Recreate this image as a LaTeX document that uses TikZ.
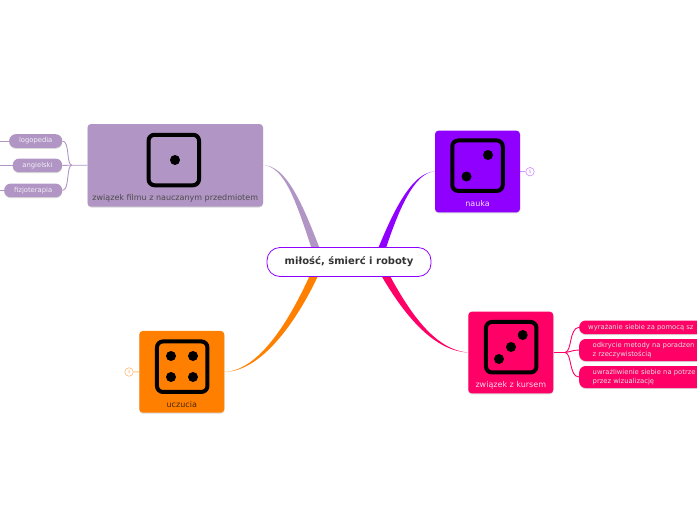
\documentclass[tikz,border=0pt]{standalone}
\usepackage{fontspec}
\setmainfont{DejaVu Sans}
\usetikzlibrary{backgrounds,shadows,calc}
\definecolor{mauve}{HTML}{B195C5}
\definecolor{violet}{HTML}{8F00FF}
\definecolor{pink}{HTML}{FF0066}
\definecolor{amber}{HTML}{FF8000}
\tikzset{
  softshadow/.style={general shadow={shadow yshift=-1pt,fill=black,opacity=.15}},
  topic/.style={rounded corners=3.5pt,minimum width=85pt,minimum height=81.7pt,
    inner sep=0pt,softshadow},
  die/.style={draw=black,line width=4pt,rounded corners=6pt,minimum size=50.5pt,inner sep=0pt},
  pip/.style={circle,fill=black,minimum size=10pt,inner sep=0pt},
  toptxt/.style={font=\fontsize{8}{10}\selectfont,inner sep=0pt},
  pill/.style={rounded corners=6.5pt,inner sep=0pt,softshadow},
  subtxt/.style={font=\fontsize{6.8}{8.6}\selectfont,inner sep=0pt,text=white!88!black},
  badge/.style={circle,draw=#1,fill=white,line width=.6pt,minimum size=8.5pt,inner sep=0pt,
    text=#1,font=\fontsize{4.5}{5}\selectfont},
  twig/.style={line width=.9pt},
}
\begin{document}
\begin{tikzpicture}[x=1pt,y=-1pt]
  \useasboundingbox (0,0) rectangle (697,520);
  % central topic
  \node[draw=violet,fill=white,line width=.8pt,rounded corners=13pt,minimum width=164pt,
    minimum height=29pt,inner sep=0pt,font=\fontsize{10}{12}\selectfont\bfseries,
    text=black!80] (milosc) at (349,262) {miłość, śmierć i roboty};
  % main topics
  \node[topic,fill=mauve,minimum width=175.5pt,minimum height=82.5pt] (film) at (175.25,165.25) {};
  \node[topic,fill=violet] (nauka) at (477.5,171.5) {};
  \node[topic,fill=pink] (kurs) at (510.8,352.5) {};
  \node[topic,fill=amber] (uczucia) at (181.8,371.8) {};
  % dice
  \node[die] (d1) at (173.8,160) {};
  \node[die] (d2) at (477.5,165.7) {};
  \node[die] (d3) at (511.2,347.2) {};
  \node[die] (d4) at (182.2,366.7) {};
  \node[pip] (p1) at (175,160) {};
  \foreach \n/\x/\y in {a/488/155,b/466.5/176.5} { \node[pip] (p2\n) at (\x,\y) {}; }
  \foreach \n/\x/\y in {a/499/359,b/511/347,c/522.7/335} { \node[pip] (p3\n) at (\x,\y) {}; }
  \foreach \n/\x/\y in {a/171/356,b/193/356,c/171/377,d/193/377} { \node[pip] (p4\n) at (\x,\y) {}; }
  \node[toptxt,text=black!70] (t1) at (175.25,198.5) {związek filmu z nauczanym przedmiotem};
  \node[toptxt,text=white!88!violet] (t2) at (477.5,204) {nauka};
  \node[toptxt,text=white!85!pink] (t3) at (510.8,385.5) {związek z kursem};
  \node[toptxt,text=black!70!amber] (t4) at (181.8,405) {uczucia};
  % left leaves
  \foreach \n/\a/\w/\y/\s in {l1/9/53/141/logopedia,l2/12.5/49.5/165.4/angielski,l3/4/58/190.4/fizjoterapia} {
    \node[pill,fill=mauve,minimum width=\w pt,minimum height=13.6pt,anchor=west,subtxt,text=white!85!mauve] (\n) at (\a,\y) {\s};
    \coordinate (e\n) at (0,\y);
  }
  % right leaves
  \node[pill,fill=pink,minimum width=140pt,minimum height=13.6pt,anchor=west] (r1) at (579,327.3) {};
  \node[pill,fill=pink,minimum width=140pt,minimum height=22pt,anchor=west] (r2) at (579,350) {};
  \node[pill,fill=pink,minimum width=140pt,minimum height=22pt,anchor=west] (r3) at (579,377) {};
  \node[subtxt,anchor=west] (x1) at (588,327.8) {wyrażanie siebie za pomocą sz};
  \node[subtxt,anchor=west,align=left] (x2) at (592.5,350.3) {odkrycie metody na poradzen\\z rzeczywistością};
  \node[subtxt,anchor=west,align=left] (x3) at (592.5,377.3) {uwrażliwienie siebie na potrze\\przez wizualizację};
  % badges
  \node[badge=amber!55] (b4) at (129,372) {4};
  \node[badge=violet!45] (b5) at (530,171.7) {5};
  \coordinate (fl) at (72,165.2);
  \coordinate (fr) at (565,352.5);
  \begin{scope}[on background layer]
    \coordinate (m1a) at (311.5,248);
    \coordinate (m1b) at (319.5,248);
    \coordinate (m2a) at (378.3,248);
    \coordinate (m2b) at (386,248);
    \coordinate (m3a) at (381,275);
    \coordinate (m3b) at (389.5,275);
    \coordinate (m4a) at (310,275);
    \coordinate (m4b) at (318.5,275);
    \fill[mauve] (film.east) .. controls (285,166) and (297,205) .. (m1a) -- (m1b)
      .. controls (303,205) and (286,165) .. (film.east);
    \fill[violet] (nauka.west) .. controls (412,172) and (393,212) .. (m2a) -- (m2b)
      .. controls (398,212) and (414,172) .. (nauka.west);
    \fill[pink] (kurs.west) .. controls (436,351) and (407,320) .. (m3a) -- (m3b)
      .. controls (412,317) and (437,350) .. (kurs.west);
    \fill[amber] (uczucia.east) .. controls (256,371) and (286,328) .. (m4a) -- (m4b)
      .. controls (292,331) and (257,372) .. (uczucia.east);
    \draw[twig,mauve] (film.west) -- (fl);
    \draw[twig,mauve] (fl) .. controls (66,165.2) and (70,141) .. (l1.east);
    \draw[twig,mauve] (fl) -- (l2.east);
    \draw[twig,mauve] (fl) .. controls (66,165.2) and (70,190) .. (l3.east);
    \foreach \n in {l1,l2,l3} { \draw[twig,mauve] (\n.west) -- (e\n); }
    \draw[twig,pink] (kurs.east) -- (fr);
    \draw[twig,pink] (fr) .. controls (572,352) and (569,328) .. (r1.west);
    \draw[twig,pink] (fr) .. controls (570,352) and (573,350) .. (r2.west);
    \draw[twig,pink] (fr) .. controls (572,353) and (569,377) .. (r3.west);
    \draw[twig,amber!50] (uczucia.west) -- (b4);
    \draw[twig,violet!40] (nauka.east) -- (b5);
  \end{scope}
\end{tikzpicture}
\end{document}
